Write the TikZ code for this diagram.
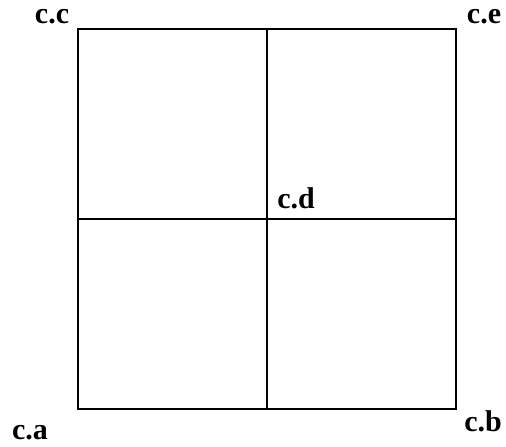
\documentclass[tikz,border=0pt]{standalone}
\usepackage{fontspec}
\setmainfont{Liberation Serif}
\begin{document}
\begin{tikzpicture}[x=1pt,y=-1pt,
  lbl/.style={font=\fontsize{30}{34}\selectfont\bfseries, inner sep=0pt},
  grid/.style={line width=1.8pt}]
\useasboundingbox (0,0) rectangle (506,447);
\coordinate (a) at (78,409);
\coordinate (b) at (456,409);
\coordinate (c) at (78,29);
\coordinate (d) at (267,219);
\coordinate (e) at (456,29);
\draw[grid] (a) rectangle (e);
\draw[grid] (d |- c) -- (d |- a);
\draw[grid] (d -| a) -- (d -| b);
\node[lbl] (lc) at (52,17) {c.c};
\node[lbl] (le) at (484,17) {c.e};
\node[lbl] (ld) at (296,198) {c.d};
\node[lbl] (la) at (30,433) {c.a};
\node[lbl] (lb) at (483,421) {c.b};
\end{tikzpicture}
\end{document}
